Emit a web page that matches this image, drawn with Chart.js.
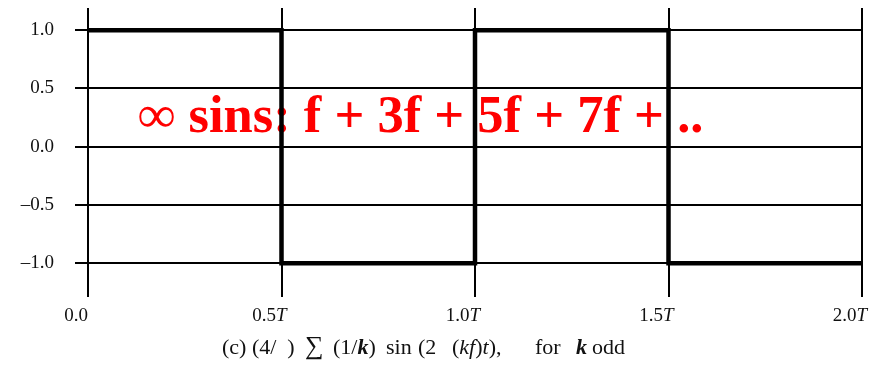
<!DOCTYPE html>
<html>
<head>
<meta charset="utf-8">
<script src="https://cdn.jsdelivr.net/npm/chart.js@4/dist/chart.umd.min.js"></script>
<style>
  html, body { margin: 0; padding: 0; background: #fff; }
  #wrap { width: 878px; height: 368px; }
</style>
</head>
<body>
<div id="wrap"><canvas id="c" width="878" height="368"></canvas></div>
<script>
// Square wave over two periods: breakpoints in units of T and the level after each one
const timePoints = [0.0, 0.5, 1.0, 1.5, 2.0];
const levels = [1, -1, 1, -1, -1];
const yTickValues = [-1.0, -0.5, 0.0, 0.5, 1.0];
const yTickLabels = ['\u20131.0', '\u20130.5', '0.0', '0.5', '1.0'];
const xTickValues = [0.0, 0.5, 1.0, 1.5, 2.0];
const xTickLabels = [['0.0', ''], ['0.5', 'T'], ['1.0', 'T'], ['1.5', 'T'], ['2.0', 'T']];
const annotationText = '\u221E sins: f + 3f + 5f + 7f + ..';

const SERIF = '"Liberation Serif", "Times New Roman", serif';

// Caption under the axis: [text, style, left x]
const captionParts = [
  ['(c) (4/  )', '', 222], ['\u2211', '', 305], ['(1/', '', 333], ['k', 'bold italic', null], [')', '', null],
  ['sin', '', 386], ['(2', '', 418], ['(', '', 452], ['kf', 'italic', null], [')', '', null],
  ['t', 'italic', null], ['),', '', null], ['for', '', 535], ['k', 'bold italic', 576], ['odd', '', 592]
];

const decorations = {
  id: 'decorations',
  beforeDatasetsDraw(chart) {
    const ctx = chart.ctx;
    ctx.save();
    ctx.fillStyle = '#ff0000';
    ctx.font = 'bold 52.5px ' + SERIF;
    ctx.textBaseline = 'alphabetic';
    ctx.textAlign = 'left';
    ctx.fillText(annotationText, 138, 132);
    ctx.restore();
  },
  afterDraw(chart) {
    const ctx = chart.ctx;
    const xs = chart.scales.x;
    ctx.save();
    ctx.fillStyle = '#111';
    ctx.textBaseline = 'alphabetic';
    // x tick labels with italic period symbol
    xTickValues.forEach((v, i) => {
      const [num, unit] = xTickLabels[i];
      ctx.font = '19px ' + SERIF;
      const w1 = ctx.measureText(num).width;
      ctx.font = 'italic 19px ' + SERIF;
      const w2 = ctx.measureText(unit).width;
      const x = xs.getPixelForValue(v) - 12 - (w1 + w2) / 2;
      ctx.font = '19px ' + SERIF;
      ctx.fillText(num, x, 321);
      ctx.font = 'italic 19px ' + SERIF;
      ctx.fillText(unit, x + w1, 321);
    });
    // caption
    let x = 222;
    captionParts.forEach(([t, style, left]) => {
      if (left !== null) x = left;
      const size = t === '\u2211' ? 26 : 22;
      ctx.font = (style ? style + ' ' : '') + size + 'px ' + SERIF;
      ctx.fillText(t, x, 354);
      x += ctx.measureText(t).width;
    });
    ctx.restore();
  }
};

new Chart(document.getElementById('c'), {
  type: 'line',
  data: {
    datasets: [{
      data: timePoints.map((t, i) => ({ x: t, y: levels[i] })),
      stepped: 'before',
      borderColor: '#000',
      borderWidth: 4.5,
      pointRadius: 0,
      fill: false
    }]
  },
  options: {
    responsive: false,
    animation: false,
    layout: { padding: { top: 8, right: 16, left: 0, bottom: 0 } },
    plugins: { legend: { display: false }, tooltip: { enabled: false }, title: { display: false } },
    scales: {
      x: {
        type: 'linear',
        min: 0, max: 2,
        afterBuildTicks(scale) { scale.ticks = xTickValues.map(v => ({ value: v })); },
        afterFit(scale) { scale.height = 71; scale.paddingLeft = 0; scale.paddingRight = 0; },
        grid: { color: '#000', lineWidth: 2, drawTicks: false },
        border: { display: false },
        ticks: { display: false }
      },
      y: {
        type: 'linear',
        min: -1.29, max: 1.19,
        afterBuildTicks(scale) { scale.ticks = yTickValues.map(v => ({ value: v })); },
        afterFit(scale) { scale.width = 88; scale.paddingTop = 0; scale.paddingBottom = 0; },
        grid: { color: '#000', lineWidth: 2, drawTicks: true, tickLength: 13 },
        border: { display: false },
        ticks: {
          color: '#111',
          padding: 21,
          font: { family: SERIF, size: 19 },
          callback(v) {
            const i = yTickValues.indexOf(v);
            return i >= 0 ? yTickLabels[i] : '';
          }
        }
      }
    }
  },
  plugins: [decorations]
});
</script>
</body>
</html>
